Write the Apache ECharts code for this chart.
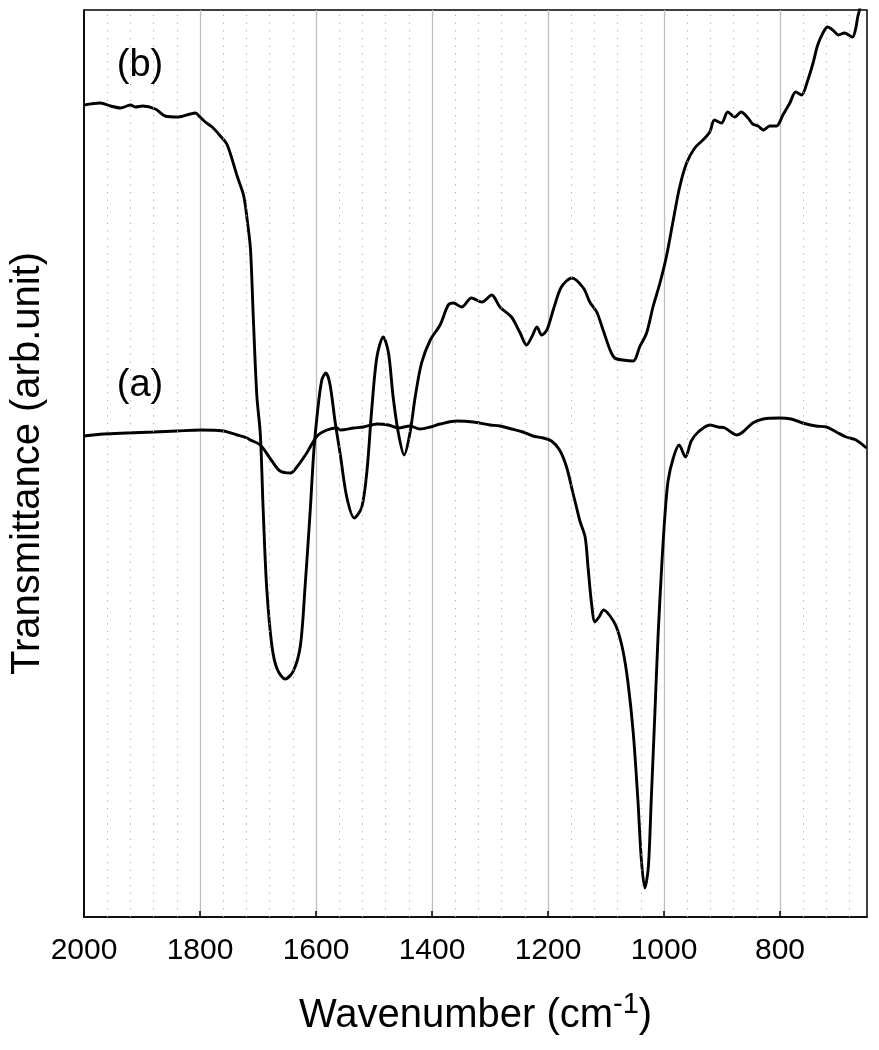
<!DOCTYPE html>
<html>
<head>
<meta charset="utf-8">
<script src="https://cdn.jsdelivr.net/npm/echarts@6/dist/echarts.min.js"></script>
<style>
  html, body { margin: 0; padding: 0; background: #fff; }
  #chart { width: 879px; height: 1050px; }
</style>
</head>
<body>
<div id="chart"></div>
<script>
// spectrum (a)
var waveA = [2000, 1966, 1926, 1880, 1840, 1799, 1760, 1736, 1719, 1713, 1696, 1676, 1662, 1644, 1633, 1616, 1598, 1581, 1564, 1558,
  1535, 1518, 1495, 1475, 1458, 1438, 1421, 1403, 1386, 1357, 1329, 1300, 1283, 1263, 1243, 1226, 1208, 1194, 1180, 1168,
  1157, 1151, 1145, 1136, 1131, 1125, 1119, 1112, 1104, 1093, 1082, 1071, 1062, 1053, 1045, 1039, 1033, 1027, 1022, 1016,
  1010, 1004, 999, 993, 984, 974, 963, 953, 941, 921, 907, 895, 875, 864, 847, 829, 801, 781, 761, 738,
  720, 703, 686, 669, 651];
var transA = [481, 483, 484, 485, 486, 487, 486, 482, 479, 477, 472, 456, 446, 444, 450, 464, 481, 487, 489, 487,
  489, 490, 493, 492, 489, 491, 488, 490, 493, 496, 495, 492, 491, 488, 485, 481, 479, 476, 467, 450,
  424, 410, 396, 380, 350, 314, 295, 300, 307, 301, 290, 267, 234, 184, 117, 57, 29, 50, 117, 200,
  284, 350, 397, 436, 459, 472, 460, 476, 485, 492, 490, 489, 482, 485, 494, 498, 499, 498, 494, 491,
  490, 485, 480, 477, 469];

// spectrum (b)
var waveB = [2000, 1972, 1954, 1937, 1920, 1911, 1899, 1877, 1860, 1837, 1817, 1808, 1800, 1791, 1779, 1765, 1753, 1736, 1725, 1719,
  1713, 1708, 1702, 1696, 1691, 1685, 1676, 1667, 1653, 1639, 1627, 1619, 1610, 1604, 1598, 1590, 1583, 1576, 1567, 1558,
  1547, 1534, 1521, 1512, 1504, 1495, 1484, 1475, 1467, 1458, 1448, 1438, 1429, 1418, 1403, 1386, 1372, 1363, 1349, 1332,
  1314, 1297, 1283, 1263, 1248, 1237, 1228, 1219, 1211, 1202, 1191, 1177, 1159, 1139, 1128, 1116, 1105, 1093, 1085, 1071,
  1053, 1042, 1030, 1019, 1007, 996, 984, 973, 961, 947, 933, 921, 913, 901, 890, 878, 867, 855, 847, 838,
  828, 818, 806, 795, 783, 773, 763, 752, 743, 735, 726, 718, 709, 699, 689, 675, 670, 666, 663, 658];
var transB = [812, 814, 811, 809, 812, 810, 811, 808, 801, 800, 803, 804, 800, 795, 790, 781, 772, 741, 722, 699,
  668, 598, 521, 483, 406, 329, 271, 248, 238, 246, 271, 329, 406, 464, 502, 537, 544, 533, 495, 462,
  420, 399, 410, 447, 507, 560, 580, 564, 520, 484, 462, 484, 520, 554, 577, 592, 612, 614, 610, 619,
  615, 622, 610, 600, 584, 572, 580, 590, 582, 587, 607, 630, 639, 629, 615, 605, 587, 567, 559, 557,
  556, 570, 584, 610, 634, 660, 697, 730, 754, 769, 777, 785, 797, 794, 805, 800, 805, 799, 793, 791,
  787, 791, 791, 802, 814, 825, 822, 837, 854, 872, 884, 890, 887, 882, 884, 880, 887, 900, 907, 925];

var curveLabels = ['(a)', '(b)'];

// dotted minor grid every 40 cm-1
var minorGrid = [];
for (var v = 680; v < 2000; v += 40) {
  if (v % 200 !== 0) minorGrid.push(v);
}

function pairs(xs, ys) {
  return xs.map(function (x, i) { return [x, ys[i]]; });
}

var FONT = 'Liberation Sans, Arial, Helvetica, sans-serif';
var chart = echarts.init(document.getElementById('chart'), null, { renderer: 'canvas' });

chart.setOption({
  backgroundColor: '#fff',
  animation: false,
  grid: {
    left: 83, right: 12, top: 10, bottom: 133,
    show: true, borderColor: '#000', borderWidth: 1.5
  },
  xAxis: {
    type: 'value',
    min: 650,
    max: 2000,
    inverse: true,
    splitNumber: 7,
    name: '{t|Wavenumber (cm}{s|-1}{t|)}',
    nameLocation: 'middle',
    nameGap: 79,
    nameTextStyle: {
      rich: {
        t: { fontSize: 40, fontFamily: FONT, color: '#000', lineHeight: 40, verticalAlign: 'bottom' },
        s: { fontSize: 29, fontFamily: FONT, color: '#000', lineHeight: 29, verticalAlign: 'bottom', padding: [0, 0, 17, 0] }
      }
    },
    axisLine: { show: true, lineStyle: { color: '#000', width: 1.5 } },
    axisTick: { show: true, inside: true, length: 6, lineStyle: { color: '#000', width: 1.5 } },
    axisLabel: {
      fontSize: 30, fontFamily: FONT, color: '#000', margin: 19, showMinLabel: false,
      formatter: function (val) { return String(val); }
    },
    splitLine: { show: true, showMinLine: false, showMaxLine: false, lineStyle: { color: '#bdbdbd', width: 1.3 } }
  },
  yAxis: {
    type: 'value',
    min: 0,
    max: 907,
    name: 'Transmittance (arb.unit)',
    nameLocation: 'middle',
    nameGap: 36,
    nameTextStyle: { fontSize: 40, fontFamily: FONT, color: '#000' },
    axisLine: { show: true, lineStyle: { color: '#000', width: 1.5 } },
    axisTick: { show: false },
    axisLabel: { show: false },
    splitLine: { show: false }
  },
  graphic: [
    { type: 'text', x: 140, y: 386, style: { text: curveLabels[0], fontSize: 38, fontFamily: FONT, fill: '#000', align: 'center', verticalAlign: 'middle' } },
    { type: 'text', x: 140, y: 66, style: { text: curveLabels[1], fontSize: 38, fontFamily: FONT, fill: '#000', align: 'center', verticalAlign: 'middle' } }
  ],
  series: [
    {
      type: 'line',
      data: [],
      z: 1,
      silent: true,
      markLine: {
        silent: true,
        symbol: ['none', 'none'],
        label: { show: false },
        lineStyle: { color: '#aaa', type: [1.2, 6.5], width: 1 },
        data: minorGrid.map(function (x) { return { xAxis: x }; })
      }
    },
    {
      name: 'a',
      type: 'line',
      data: pairs(waveA, transA),
      showSymbol: false,
      smooth: 0.3,
      clip: true,
      z: 3,
      lineStyle: { color: '#000', width: 2.9 }
    },
    {
      name: 'b',
      type: 'line',
      data: pairs(waveB, transB),
      showSymbol: false,
      smooth: 0.3,
      clip: true,
      z: 3,
      lineStyle: { color: '#000', width: 2.9 }
    }
  ]
});
</script>
</body>
</html>
